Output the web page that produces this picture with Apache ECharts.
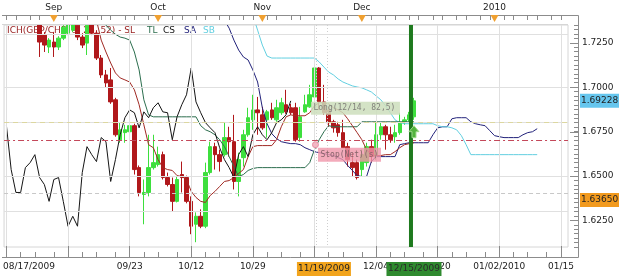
<!DOCTYPE html>
<html><head><meta charset="utf-8">
<script src="https://cdn.jsdelivr.net/npm/echarts@6/dist/echarts.min.js"></script>
<style>html,body{margin:0;padding:0;background:#fff}#c{width:625px;height:278px}</style>
</head><body><div id="c"></div>
<script>
// ---------- DATA ----------
const barCount = 119;
const tickIdx  = [0, 13, 26, 39, 52, 65, 78, 91, 104, 117];
const tickText = ['08/17/2009', '', '09/23', '10/12', '10/29', '', '12/04', '12/20', '01/02/2010', '01/15'];
const monthIdx  = [10, 32, 54, 75, 103];
const monthText = ['Sep', 'Oct', 'Nov', 'Dec', '2010'];
const yTicks = [1.625, 1.65, 1.675, 1.7, 1.725];

// candles [open, close, low, high], first at bar 7
const candleStart = 7;
const candles = [
[1.7405,1.7254,1.7170,1.7433],[1.7293,1.7237,1.7198,1.7310],[1.7226,1.7265,1.7192,1.7276],[1.7254,1.7226,1.7170,1.7310],
[1.7226,1.7276,1.7209,1.7287],[1.7276,1.7338,1.7265,1.7349],[1.7304,1.7354,1.7293,1.7377],[1.7321,1.7366,1.7310,1.7388],
[1.7349,1.7282,1.7265,1.7366],[1.7282,1.7237,1.7220,1.7304],[1.7248,1.7349,1.7181,1.7366],[1.7354,1.7304,1.7293,1.7377],
[1.7304,1.7164,1.7153,1.7321],[1.7164,1.7069,1.7052,1.7181],[1.7069,1.7024,1.6996,1.7097],[1.7041,1.6917,1.6906,1.7108],
[1.6929,1.6732,1.6721,1.6940],[1.6704,1.6760,1.6687,1.6800],[1.6744,1.6760,1.6687,1.6788],[1.6749,1.6783,1.6693,1.6816],
[1.6783,1.6536,1.6508,1.6794],[1.6547,1.6407,1.6385,1.6559],[1.6396,1.6407,1.6228,1.6480],[1.6407,1.6547,1.6385,1.6732],
[1.6547,1.6575,1.6536,1.6732],[1.6564,1.6620,1.6553,1.6665],[1.6620,1.6491,1.6480,1.6637],[1.6491,1.6452,1.6441,1.6519],
[1.6452,1.6357,1.6301,1.6491],[1.6357,1.6480,1.6351,1.6497],[1.6508,1.6491,1.6407,1.6581],[1.6491,1.6357,1.6346,1.6502],
[1.6357,1.6217,1.6172,1.6385],[1.6228,1.6273,1.6127,1.6295],[1.6273,1.6217,1.6206,1.6312],[1.6217,1.6519,1.6206,1.6575],
[1.6519,1.6665,1.6508,1.6693],[1.6665,1.6620,1.6536,1.6687],[1.6620,1.6581,1.6525,1.6648],[1.6620,1.6716,1.6609,1.6800],
[1.6716,1.6693,1.6609,1.6777],[1.6693,1.6469,1.6424,1.6844],[1.6469,1.6592,1.6385,1.6631],[1.6603,1.6732,1.6553,1.6760],
[1.6732,1.6828,1.6721,1.6884],[1.6816,1.6872,1.6760,1.6957],[1.6872,1.6856,1.6732,1.6945],[1.6844,1.6771,1.6760,1.6889],
[1.6816,1.6861,1.6716,1.6872],[1.6872,1.6828,1.6816,1.6912],[1.6816,1.6884,1.6805,1.6929],[1.6856,1.6912,1.6844,1.6940],
[1.6901,1.6861,1.6850,1.6985],[1.6884,1.6856,1.6844,1.6906],[1.6884,1.6704,1.6693,1.6912],[1.6716,1.6833,1.6693,1.6889],
[1.6861,1.6901,1.6856,1.6957],[1.6889,1.6957,1.6884,1.7013],[1.6945,1.7108,1.6917,1.7125],[1.7108,1.6917,1.6872,1.7113],
[1.6917,1.6856,1.6844,1.7013],[1.6872,1.6800,1.6777,1.6889],[1.6805,1.6771,1.6744,1.6816],[1.6788,1.6744,1.6721,1.6805],
[1.6744,1.6659,1.6659,1.6816],[1.6665,1.6592,1.6553,1.6687],[1.6575,1.6547,1.6497,1.6631],[1.6575,1.6491,1.6480,1.6592],
[1.6536,1.6620,1.6497,1.6648],[1.6575,1.6665,1.6553,1.6687],[1.6665,1.6609,1.6575,1.6704],[1.6609,1.6732,1.6592,1.6800],
[1.6732,1.6777,1.6704,1.6800],[1.6777,1.6732,1.6648,1.6788],[1.6732,1.6704,1.6687,1.6777],[1.6721,1.6744,1.6687,1.6788],
[1.6744,1.6800,1.6732,1.6856],[1.6800,1.6816,1.6788,1.6833],[1.6816,1.6844,1.6805,1.6861],[1.6833,1.69228,1.6816,1.6940]
];

// SL line (dark red), from bar 19
const slStart = 19;
const slValues = [1.7377,1.7265,1.7198,1.7136,1.7080,1.7052,1.7041,1.7029,1.6985,1.6901,1.6788,1.6676,1.6659,1.6592,
1.6547,1.6536,1.6531,1.6502,1.6497,1.6480,1.6413,1.6379,1.6357,1.6351,1.6390,1.6413,1.6441,1.6469,1.6474,1.6491,
1.6514,1.6536,1.6609,1.6665,1.6671,1.6671,1.6671,1.6671,1.6704,1.6777,1.6833,1.6844,1.6839,1.6839,1.6839,1.6856,
1.6895,1.6912,1.6912,1.6906,1.6884,1.6872,1.6856,1.6822,1.6783,1.6744,1.6704,1.6648,1.6620,1.6615,1.6615,1.6620,
1.6620,1.6637,1.6659,1.6676,1.6682,1.6687];

// TL line (dark green), from bar 20
const tlStart = 20;
const tlValues = [1.7377,1.7349,1.7321,1.7298,1.7282,1.7276,1.7265,1.7198,1.7097,1.6929,1.6844,
1.6833,1.6833,1.6833,1.6833,1.6833,1.6833,1.6833,1.6833,1.6833,1.6833,
1.6783,1.6760,1.6749,1.6732,1.6704,1.6665,1.6609,1.6553,1.6497,1.6508,1.6531,1.6542,
1.6547,1.6547,1.6547,1.6547,1.6547,1.6547,1.6547,1.6547,1.6547,1.6547,1.6547,
1.6575,1.6648,1.6704,1.6749,1.6783,1.6777,1.6777,1.6777,1.6777,1.6777,1.6777,
1.6805,1.6805,1.6805,1.6805,1.6805,1.6805,1.6805,1.6805,1.6805,1.6805,1.6805,1.6805];

// SA line (navy), from bar 46
const saStart = 46;
const saValues = [1.7377,1.7332,1.7265,1.7209,1.7170,1.7153,1.7097,1.7029,1.6884,1.6794,1.6738,1.6710,1.6693,1.6687,
1.6682,1.6682,1.6676,1.6659,1.6648,1.6637,1.6631,1.6626,1.6620,1.6615,1.6603,1.6592,1.6559,1.6531,1.6502,1.6497,
1.6497,1.6581,1.6609,1.6609,1.6609,1.6609,1.6609,1.6676,1.6682,1.6687,1.6687,1.6687,1.6687,1.6687,1.6732,1.6771,
1.6777,1.6777,1.6822,1.6828,1.6828,1.6828,1.6805,1.6794,1.6788,1.6783,1.6755,1.6727,1.6721,1.6716,1.6716,1.6716,
1.6716,1.6732,1.6744,1.6749,1.6766];

// SB line (cyan), from bar 52
const sbStart = 52;
const sbValues = [1.7405,1.7321,1.7237,1.7175,1.7164,1.7164,1.7164,1.7164,1.7164,1.7164,1.7164,1.7164,1.7164,1.7164,
1.7142,1.7113,1.7085,1.7069,1.7046,1.7029,1.7018,1.7007,1.7001,1.6996,1.6985,1.6973,1.6951,1.6929,1.6895,1.6856,
1.6816,1.6800,1.6794,1.6794,1.6794,1.6794,1.6794,1.6794,1.6794,1.6783,1.6777,1.6777,1.6771,1.6760,1.6727,1.6676,
1.6620,1.6620,1.6620,1.6620,1.6620,1.6620,1.6620,1.6620,1.6620,1.6620,1.6620,1.6620,1.6620,1.6620,1.6620];

const csShift = 26;           // CS plots closes 26 bars back
const entryLevel = 1.6844;
const stopLevel = 1.6676;
const lowLevel = 1.6365;
const lastPrice = 1.69228;
const longBar = 65, markBar = 67, signalBar = 86;

// ---------- BUILD ----------
const cats = Array.from({length: barCount}, (_, i) => String(i));
function pad(start, vals) { const a = new Array(barCount).fill('-'); vals.forEach((v, k) => { a[start + k] = v; }); return a; }
const candleData = pad(candleStart, candles);
const closes = candles.map(c => c[1]);
const csData = pad(0, closes.slice(csShift - candleStart));
const FONT = 'DejaVu Sans';

const chart = echarts.init(document.getElementById('c'));
const lineS = (name, data, color) => ({ name, type: 'line', data, showSymbol: false, symbol: 'none', clip: true,
  lineStyle: { color, width: 1 }, itemStyle: { color }, z: 3, animation: false, silent: true });

chart.setOption({
  animation: false,
  grid: { left: 2, top: 25, width: 566, height: 222, show: true, borderColor: '#d6d6d6', borderWidth: 1, backgroundColor: '#fff' },
  xAxis: [
    { type: 'category', data: cats, boundaryGap: true, position: 'bottom', offset: 10, z: 10,
      axisLine: { show: false },
      axisTick: { show: true, inside: true, length: 11, alignWithLabel: true, interval: (i) => i % 13 === 0, lineStyle: { color: '#8a8a8a' } },
      axisLabel: { show: true, interval: (i) => { const k = tickIdx.indexOf(i); return k >= 0 && tickText[k] !== ''; },
        formatter: (v, i) => { const k = tickIdx.indexOf(Number(v)); const t = k >= 0 ? tickText[k] : ''; return Number(v) === 0 ? '{f|' + t + '}' : t; },
        rich: { f: { padding: [0, 0, 0, 45], fontFamily: FONT, fontSize: 9, color: '#222' } },
        color: '#222', fontFamily: FONT, fontSize: 9, margin: 5 },
      splitLine: { show: false } },
    { type: 'category', data: cats, boundaryGap: true, position: 'top', offset: 10, z: 10,
      axisLine: { show: false },
      axisTick: { show: true, inside: true, length: 5, alignWithLabel: true, interval: (i) => (i % 5 === 0 || i % 5 === 2), lineStyle: { color: '#8a8a8a' } },
      axisLabel: { show: true, interval: (i) => monthIdx.indexOf(i) >= 0,
        formatter: (v) => { const k = monthIdx.indexOf(Number(v)); return k >= 0 ? monthText[k] : ''; },
        color: '#222', fontFamily: FONT, fontSize: 9, margin: 3 },
      splitLine: { show: false } },
    { type: 'category', data: cats, boundaryGap: true, position: 'bottom', offset: 10, z: 10,
      axisLine: { show: false },
      axisTick: { show: true, inside: true, length: 5, alignWithLabel: true, interval: (i) => [3, 6, 10].indexOf(i % 13) >= 0, lineStyle: { color: '#8a8a8a' } },
      axisLabel: { show: false }, splitLine: { show: false } }
  ],
  yAxis: [
    { type: 'value', position: 'right', offset: 10, min: 1.61, max: 1.735, interval: 0.0025, scale: true, z: 10,
      axisLine: { show: false },
      axisTick: { show: true, inside: true, length: 4, lineStyle: { color: '#8a8a8a' } },
      axisLabel: { show: true, margin: 4, color: '#222', fontFamily: FONT, fontSize: 9,
        formatter: (v) => { const r = v / 0.025; return Math.abs(r - Math.round(r)) < 1e-6 ? v.toFixed(4) : ''; } },
      splitLine: { show: false } }
  ],
  series: [
    { name: 'grid', type: 'line', data: new Array(barCount).fill('-'), z: 1, silent: true, animation: false,
      markLine: { silent: true, symbol: 'none', animation: false, label: { show: false },
        data: [
          ...tickIdx.map(i => ({ xAxis: i, lineStyle: { color: '#e0e0e0', width: 1, type: 'solid' } })),
          ...yTicks.map(v => ({ yAxis: v, lineStyle: { color: '#e0e0e0', width: 1, type: 'solid' } })),
          { yAxis: entryLevel, lineStyle: { color: '#dcd7a0', width: 1, type: [5, 4] } },
          { yAxis: stopLevel, lineStyle: { color: '#c4485a', width: 1, type: [6, 3, 2, 3] } },
          { yAxis: lowLevel, lineStyle: { color: '#c8c8c8', width: 1, type: [4, 3] } }
        ] } },
    { name: 'price', type: 'candlestick', data: candleData, barWidth: 4, z: 2, clip: true, silent: true, animation: false,
      itemStyle: { color: '#3ddf3d', color0: '#b0181b', borderColor: '#3ddf3d', borderColor0: '#b0181b', borderWidth: 1 } },
    lineS('SA', pad(saStart, saValues), '#22227a'),
    lineS('SB', pad(sbStart, sbValues), '#62cfe0'),
    lineS('TL', pad(tlStart, tlValues), '#2c6e4e'),
    lineS('SL', pad(slStart, slValues), '#a02a24'),
    lineS('CS', csData, '#151515')
  ]
});

// ---------- OVERLAYS (positioned through the chart's scales) ----------
function px(i, v) { return chart.convertToPixel({ xAxisIndex: 0, yAxisIndex: 0 }, [i, v]); }
const plotTop = 25, plotBot = 247;
const g = [];
const txt = (x, y, s, color, opts = {}) => ({ type: 'text', x, y, z: opts.z || 60, silent: true,
  style: { text: s, fill: color, font: (opts.size || 9) + 'px ' + (opts.font || FONT), textAlign: opts.align || 'left', textVerticalAlign: 'middle' } });
// white mask above plot (keeps candle overflow inside the plot frame); axes have higher z
g.push({ type: 'rect', z: 4, silent: true, shape: { x: 0, y: 0, width: 579, height: 24.5 }, style: { fill: '#fff' } });
// frame lines
const fr = { stroke: '#8c8c8c', lineWidth: 1 };
g.push({ type: 'line', z: 5, silent: true, shape: { x1: 2, y1: 15.5, x2: 578.5, y2: 15.5 }, style: fr });
g.push({ type: 'line', z: 5, silent: true, shape: { x1: 578.5, y1: 15.5, x2: 578.5, y2: 257.5 }, style: fr });
g.push({ type: 'line', z: 5, silent: true, shape: { x1: 2, y1: 257.5, x2: 578.5, y2: 257.5 }, style: fr });
g.push({ type: 'line', z: 5, silent: true, shape: { x1: 2, y1: 24.5, x2: 568, y2: 24.5 }, style: { stroke: '#d6d6d6', lineWidth: 1 } });
// major y ticks
yTicks.forEach(v => { const p = px(0, v); g.push({ type: 'line', z: 5, silent: true, shape: { x1: 570, y1: Math.round(p[1]) + 0.5, x2: 578, y2: Math.round(p[1]) + 0.5 }, style: fr }); });
// legend text
const ly = 31;
g.push(Object.assign(txt(7, ly, 'ICH(GBP/CHF, 9, 26, 52) - SL', '#9a2222'), { z: 1 }));
g.push(Object.assign(txt(147, ly, 'TL', '#2c6e4e'), { z: 1 }));
g.push(Object.assign(txt(163, ly, 'CS', '#151515'), { z: 1 }));
g.push(Object.assign(txt(184, ly, 'SA', '#22227a'), { z: 1 }));
g.push(Object.assign(txt(203, ly, 'SB', '#62cfe0'), { z: 1 }));
// month triangles
monthIdx.forEach(i => { const x = px(i, 1.7)[0]; g.push({ type: 'polygon', z: 20, silent: true, shape: { points: [[x - 4, 15], [x + 4, 15], [x, 22]] }, style: { fill: '#f0a030' } }); });
// dotted markers
const x65 = px(longBar, entryLevel)[0], x67 = px(markBar, entryLevel)[0];
[x65 + 1.5, x67 + 3].forEach(x => g.push({ type: 'line', z: 4, silent: true, shape: { x1: Math.round(x) + 0.5, y1: plotTop, x2: Math.round(x) + 0.5, y2: plotBot }, style: { stroke: '#cfcfcf', lineWidth: 1, lineDash: [1, 2] } }));
// long label
const ey = px(longBar, entryLevel)[1];
g.push({ type: 'rect', z: 50, silent: true, shape: { x: x65 - 3.5, y: ey - 13, width: 89, height: 13 }, style: { fill: 'rgba(205,222,188,0.85)' } });
g.push(txt(x65 - 1, ey - 6.5, 'Long(12/14, 82,5)', '#80807a', { font: 'DejaVu Sans Mono', size: 8 }));
// stop label
const sy = px(longBar, stopLevel)[1];
g.push({ type: 'circle', z: 50, silent: true, shape: { cx: x65 + 1, cy: sy, r: 3 }, style: { fill: '#f3b7c4', stroke: '#e890a4' } });
g.push({ type: 'rect', z: 50, silent: true, shape: { x: x65 + 3.5, y: sy + 3, width: 63, height: 14 }, style: { fill: 'rgba(240,150,170,0.8)' } });
g.push(txt(x65 + 6, sy + 10, 'Stop(Net)(s)', '#86626a', { font: 'DejaVu Sans Mono', size: 8 }));
// signal vertical line and arrow
const xs = px(signalBar, lastPrice)[0];
g.push({ type: 'line', z: 40, silent: true, shape: { x1: xs - 3, y1: plotTop, x2: xs - 3, y2: plotBot }, style: { stroke: '#1e7a1e', lineWidth: 4 } });
const ay = px(signalBar, 1.6755)[1];
g.push({ type: 'polygon', z: 55, silent: true, shape: { points: [[xs, ay - 5], [xs + 5, ay + 1], [xs + 2, ay + 1], [xs + 2, ay + 7], [xs - 2, ay + 7], [xs - 2, ay + 1], [xs - 5, ay + 1]] }, style: { fill: '#52b33e', stroke: '#9ed98a', lineWidth: 1 } });
// bottom highlight labels
g.push({ type: 'rect', z: 60, silent: true, shape: { x: x67 - 27, y: 262, width: 54, height: 14 }, style: { fill: '#f2a41c' } });
g.push(txt(x67, 269, '11/19/2009', '#222', { align: 'center' }));
g.push({ type: 'rect', z: 60, silent: true, shape: { x: xs - 27.5, y: 262, width: 55, height: 14 }, style: { fill: '#2f8a2f' } });
g.push(txt(xs, 269, '12/15/2009', '#2a2a2a', { align: 'center' }));
// right price labels
[[lastPrice, '#66c6ee', '1.69228'], [lowLevel, '#f29a1e', '1.63650']].forEach(([v, c, s]) => {
  const y = px(0, v)[1];
  g.push({ type: 'rect', z: 60, silent: true, shape: { x: 580, y: y - 7, width: 39, height: 14 }, style: { fill: c } });
  g.push(txt(581, y, s, '#222'));
});
chart.setOption({ graphic: g });
</script>
</body></html>
